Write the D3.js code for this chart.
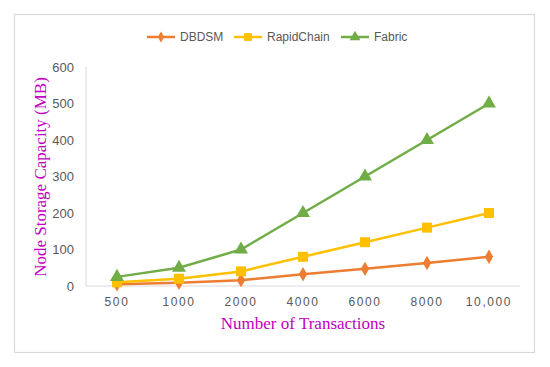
<!DOCTYPE html>
<html>
<head>
<meta charset="utf-8">
<script src="https://cdn.jsdelivr.net/npm/d3@7"></script>
<style>
  body { margin: 0; background: #fff; }
</style>
</head>
<body>
<div id="chart"></div>
<script>
// data
var categories = ["500", "1000", "2000", "4000", "6000", "8000", "10,000"];
var dbdsm      = [5, 9, 16, 32, 47, 63, 80];
var rapidChain = [10, 20, 40, 80, 120, 160, 200];
var fabric     = [25, 50, 100, 200, 300, 400, 500];
var yTicks     = [0, 100, 200, 300, 400, 500, 600];

var series = [
	{ name: "DBDSM", values: dbdsm, color: "#ED7D31", shape: d3.symbolDiamond, size: 60 },
	{ name: "RapidChain", values: rapidChain, color: "#FFC000", shape: d3.symbolSquare, size: 100 },
	{ name: "Fabric", values: fabric, color: "#70AD47", shape: d3.symbolTriangle, size: 85 }
];

var width = 550, height = 367;
var plot = { left: 86, right: 520, top: 67, bottom: 286 };

var svg = d3.select("#chart").append("svg")
	.attr("width", width)
	.attr("height", height);

// outer frame
svg.append("rect")
	.attr("x", 14.5).attr("y", 14.5)
	.attr("width", 520).attr("height", 338)
	.attr("fill", "#fff")
	.attr("stroke", "#d9d9d9")
	.attr("stroke-width", 1.2);

var x = d3.scaleBand().domain(categories).range([plot.left, plot.right]);
var y = d3.scaleLinear().domain([0, 600]).range([plot.bottom, plot.top]);

// axes lines
svg.append("line")
	.attr("x1", plot.left).attr("x2", plot.left)
	.attr("y1", plot.top).attr("y2", plot.bottom)
	.attr("stroke", "#d9d9d9").attr("stroke-width", 1);
svg.append("line")
	.attr("x1", plot.left).attr("x2", plot.right)
	.attr("y1", plot.bottom).attr("y2", plot.bottom)
	.attr("stroke", "#d9d9d9").attr("stroke-width", 1);

// y tick labels
svg.selectAll(".ytick").data(yTicks).enter().append("text")
	.attr("class", "ytick")
	.attr("x", 74)
	.attr("y", function(d) { return y(d); })
	.attr("dy", "0.35em")
	.attr("text-anchor", "end")
	.style("font-family", "Liberation Sans, Arial, sans-serif")
	.style("font-size", "13px")
	.style("fill", "#595959")
	.text(function(d) { return d; });

// x tick labels
svg.selectAll(".xtick").data(categories).enter().append("text")
	.attr("class", "xtick")
	.attr("x", function(d) { return x(d) + x.bandwidth() / 2; })
	.attr("y", 306)
	.attr("text-anchor", "middle")
	.style("font-family", "Liberation Sans, Arial, sans-serif")
	.style("font-size", "12px")
	.style("letter-spacing", "1.6px")
	.style("fill", "#595959")
	.text(function(d) { return d; });

// axis titles
svg.append("text")
	.attr("x", 303).attr("y", 329)
	.attr("text-anchor", "middle")
	.style("font-family", "Liberation Serif, Times New Roman, serif")
	.style("font-size", "17px")
	.style("fill", "#C000C0")
	.text("Number of Transactions");

svg.append("text")
	.attr("transform", "translate(46,177) rotate(-90)")
	.attr("text-anchor", "middle")
	.style("font-family", "Liberation Serif, Times New Roman, serif")
	.style("font-size", "17px")
	.style("fill", "#C000C0")
	.text("Node Storage Capacity (MB)");

// lines and markers
var line = d3.line()
	.x(function(d, i) { return x(categories[i]) + x.bandwidth() / 2; })
	.y(function(d) { return y(d); });

series.forEach(function(s) {
	svg.append("path")
		.datum(s.values)
		.attr("d", line)
		.attr("fill", "none")
		.attr("stroke", s.color)
		.attr("stroke-width", 2.5);

	svg.selectAll(".m-" + s.name).data(s.values).enter().append("path")
		.attr("d", d3.symbol().type(s.shape).size(s.size))
		.attr("transform", function(d, i) {
			return "translate(" + (x(categories[i]) + x.bandwidth() / 2) + "," + y(d) + ")";
		})
		.attr("fill", s.color);
});

// legend
var legendX = [147, 234, 341];
series.forEach(function(s, i) {
	var g = svg.append("g").attr("transform", "translate(" + legendX[i] + ",37)");
	g.append("line")
		.attr("x1", 0).attr("x2", 28)
		.attr("stroke", s.color).attr("stroke-width", 2.5);
	g.append("path")
		.attr("d", d3.symbol().type(s.shape).size(s.size * 0.6))
		.attr("transform", "translate(14,0)")
		.attr("fill", s.color);
	g.append("text")
		.attr("x", 33).attr("dy", "0.35em")
		.style("font-family", "Liberation Sans, Arial, sans-serif")
		.style("font-size", "12px")
		.style("fill", "#595959")
		.text(s.name);
});
</script>
</body>
</html>
